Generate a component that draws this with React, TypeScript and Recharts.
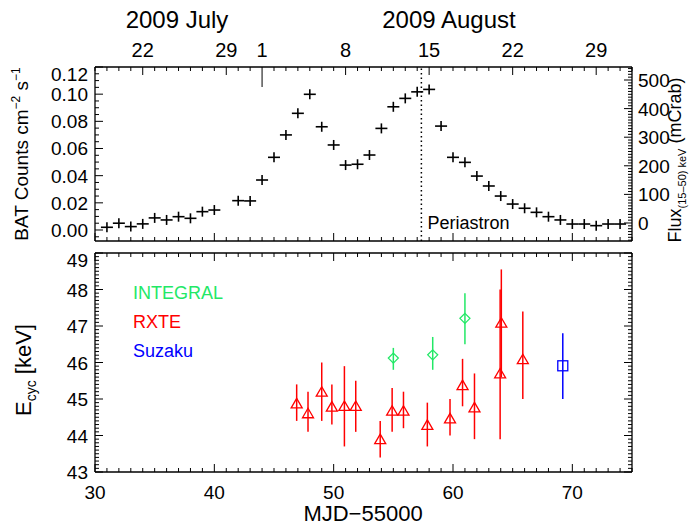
import React from "react";
import { ScatterChart, Scatter, XAxis, YAxis, ErrorBar, ReferenceLine } from "recharts";

const W = 691;
const H = 525;
const FONT = "'Liberation Sans', Arial, Helvetica, sans-serif";
const TICK_FS = 19;

// Swift/BAT daily light curve, MJD-55000 vs counts cm^-2 s^-1
const batMjd = [
  31, 32, 33, 34, 35, 36, 37, 38, 39, 40, 42, 43, 44, 45, 46, 47, 48, 49, 50, 51, 52, 53,
  54, 55, 56, 57, 58, 59, 60, 61, 62, 63, 64, 65, 66, 67, 68, 69, 70, 71, 72, 73, 74,
];
const batRate = [
  0.002, 0.005, 0.0025, 0.0045, 0.0089, 0.0074, 0.0098, 0.0086, 0.0135, 0.0147, 0.0216,
  0.0214, 0.0368, 0.0535, 0.07, 0.0859, 0.0999, 0.076, 0.0626, 0.0478, 0.0484, 0.0552,
  0.0748, 0.0907, 0.0969, 0.1017, 0.1035, 0.0765, 0.0535, 0.0498, 0.0397, 0.0324, 0.025,
  0.0191, 0.016, 0.013, 0.0098, 0.0074, 0.0044, 0.0044, 0.0032, 0.0044, 0.0044,
];

// cyclotron line energy (keV) with lower / upper limits
const rxteMjd = [46.9, 47.85, 49.0, 49.85, 50.9, 51.85, 53.9, 54.9, 55.85, 57.85, 59.75, 60.8, 61.8, 63.95, 64.05, 65.85];
const rxteE = [44.88, 44.61, 45.2, 44.79, 44.81, 44.81, 43.9, 44.68, 44.68, 44.29, 44.47, 45.38, 44.77, 45.7, 47.09, 46.09];
const rxteLo = [44.4, 44.1, 44.4, 44.3, 43.7, 44.1, 43.4, 44.1, 44.2, 43.7, 44.0, 44.8, 43.9, 43.9, 45.6, 45.0];
const rxteHi = [45.4, 45.2, 46.0, 45.4, 45.9, 45.5, 44.4, 45.3, 45.2, 44.9, 45.0, 46.1, 45.7, 48.0, 48.55, 47.4];

const integralMjd = [55.0, 58.3, 61.0];
const integralE = [46.12, 46.21, 47.21];
const integralLo = [45.8, 45.8, 46.5];
const integralHi = [46.4, 46.7, 47.9];

const suzakuMjd = [69.2];
const suzakuE = [45.91];
const suzakuLo = [45.0];
const suzakuHi = [46.8];

// calendar ticks on top axis
const dateMjd = [34, 41, 44, 51, 58, 65, 72];
const dateLabels = ["22", "29", "1", "8", "15", "22", "29"];
const monthStartMjd = 44;
const periastronMjd = 57.35;

const mjdLabels = [30, 40, 50, 60, 70];
const rateLabels = [0.0, 0.02, 0.04, 0.06, 0.08, 0.1, 0.12];
const fluxLabels = [0, 100, 200, 300, 400, 500];
const ecycLabels = [43, 44, 45, 46, 47, 48, 49];

const GREEN = "#22e866";
const RED = "#ff0000";
const BLUE = "#0000ff";

const steps = (lo: number, hi: number, step: number) => {
  const out: number[] = [];
  const n = Math.round((hi - lo) / step);
  for (let i = 0; i <= n; i++) out.push(+(lo + i * step).toFixed(4));
  return out;
};
const near = (a: number, list: number[]) => list.some((b) => Math.abs(a - b) < 1e-6);

const batData = batMjd.map((m, i) => ({ mjd: m, y: batRate[i] }));
const mk = (mjd: number[], e: number[], lo: number[], hi: number[]) =>
  mjd.map((m, i) => ({ mjd: m, y: e[i], err: [e[i] - lo[i], hi[i] - e[i]] }));
const rxteData = mk(rxteMjd, rxteE, rxteLo, rxteHi);
const integralData = mk(integralMjd, integralE, integralLo, integralHi);
const suzakuData = mk(suzakuMjd, suzakuE, suzakuLo, suzakuHi);

const dayTicks = steps(30, 75, 1);
const axisLine = { stroke: "#000", strokeWidth: 1.3 };

// custom ticks: tickSize=0/tickMargin=0 so x/y sit on the axis line
const xTickBottom = (withLabels: boolean) => (p: any) => {
  const v = p.payload.value;
  const major = near(v, mjdLabels);
  return (
    <g>
      <line x1={p.x} x2={p.x} y1={p.y} y2={p.y - (major ? 8 : 4)} stroke="#000" strokeWidth={1} />
      {withLabels && major && (
        <text x={p.x} y={p.y + 27} textAnchor="middle" fontSize={TICK_FS} fill="#000">{v}</text>
      )}
    </g>
  );
};

const xTickTopPlain = (p: any) => {
  const v = p.payload.value;
  const major = near(v, mjdLabels);
  return <line x1={p.x} x2={p.x} y1={p.y} y2={p.y + (major ? 8 : 4)} stroke="#000" strokeWidth={1} />;
};

const xTickDate = (p: any) => {
  const v = p.payload.value;
  const idx = dateMjd.indexOf(v);
  const len = v === monthStartMjd ? 20 : idx >= 0 ? 8 : 4;
  return (
    <g>
      <line x1={p.x} x2={p.x} y1={p.y} y2={p.y + len} stroke="#000" strokeWidth={1} />
      {idx >= 0 && (
        <text x={p.x} y={p.y - 10} textAnchor="middle" fontSize={20} fill="#000">{dateLabels[idx]}</text>
      )}
    </g>
  );
};

const yTickLeft = (majors: number[], fmt: (v: number) => string, labels: boolean, topVal: number) => (p: any) => {
  const v = p.payload.value;
  const major = near(v, majors);
  const shift = Math.abs(v - topVal) < 1e-6 ? 7 : 0;
  return (
    <g>
      <line x1={p.x} x2={p.x + (major ? 8 : 4)} y1={p.y} y2={p.y} stroke="#000" strokeWidth={1} />
      {labels && major && (
        <text x={p.x - 7} y={p.y + 7 + shift} textAnchor="end" fontSize={TICK_FS} fill="#000">{fmt(v)}</text>
      )}
    </g>
  );
};

const yTickRight = (majors: number[], labels: boolean) => (p: any) => {
  const v = p.payload.value;
  const major = near(v, majors);
  return (
    <g>
      <line x1={p.x} x2={p.x - (major ? 8 : 4)} y1={p.y} y2={p.y} stroke="#000" strokeWidth={1} />
      {labels && major && (
        <text x={p.x + 6} y={p.y + 7} textAnchor="start" fontSize={TICK_FS} fill="#000">{v}</text>
      )}
    </g>
  );
};

const Plus = (p: any) => (
  <g stroke="#000" strokeWidth={1.6}>
    <line x1={p.cx - 6} x2={p.cx + 6} y1={p.cy} y2={p.cy} />
    <line x1={p.cx} x2={p.cx} y1={p.cy - 5} y2={p.cy + 5} />
  </g>
);
const Triangle = (p: any) => (
  <path d={`M${p.cx - 5.5},${p.cy + 4.5}L${p.cx + 5.5},${p.cy + 4.5}L${p.cx},${p.cy - 5}Z`} fill="none" stroke={RED} strokeWidth={1.3} />
);
const Diamond = (p: any) => (
  <path d={`M${p.cx},${p.cy - 5}L${p.cx + 5},${p.cy}L${p.cx},${p.cy + 5}L${p.cx - 5},${p.cy}Z`} fill="none" stroke={GREEN} strokeWidth={1.3} />
);
const Square = (p: any) => (
  <rect x={p.cx - 5} y={p.cy - 5} width={10} height={10} fill="none" stroke={BLUE} strokeWidth={1.3} />
);
const Nothing = () => <g />;

const PeriLabel = (p: any) => {
  const vb = p.viewBox || {};
  return (
    <text x={vb.x + 6} y={vb.y + vb.height - 12} fontSize={18} fill="#000">Periastron</text>
  );
};

export default function App() {
  return (
    <div style={{ position: "absolute", left: 0, top: 0, width: W, height: H, background: "#fff", fontFamily: FONT }}>
      <div style={{ position: "absolute", left: 0, top: 0 }}>
        <ScatterChart width={W} height={H} margin={{ top: 0, right: 0, bottom: 0, left: 0 }}>
          <XAxis xAxisId="t" orientation="top" type="number" dataKey="mjd" domain={[30, 75]} allowDataOverflow ticks={dayTicks}
            interval={0} height={67} tickSize={0} tickMargin={0} tickLine={false} axisLine={axisLine} tick={xTickDate} />
          <XAxis xAxisId="b" orientation="bottom" type="number" dataKey="mjd" domain={[30, 75]} allowDataOverflow ticks={dayTicks}
            interval={0} height={H - 241} tickSize={0} tickMargin={0} tickLine={false} axisLine={axisLine} tick={xTickBottom(false)} />
          <YAxis yAxisId="l" orientation="left" type="number" dataKey="y" domain={[-0.0081, 0.12]} allowDataOverflow
            ticks={steps(-0.005, 0.12, 0.005)} interval={0} width={95} tickSize={0} tickMargin={0} tickLine={false}
            axisLine={axisLine} tick={yTickLeft(rateLabels, (v) => v.toFixed(2), true, 0.12)} />
          <YAxis yAxisId="r" orientation="right" type="number" dataKey="y" domain={[-63, 545.5]} allowDataOverflow
            ticks={steps(-60, 540, 10)} interval={0} width={W - 632} tickSize={0} tickMargin={0} tickLine={false}
            axisLine={axisLine} tick={yTickRight(fluxLabels, true)} />
          <ReferenceLine xAxisId="b" yAxisId="l" x={periastronMjd} stroke="#000" strokeWidth={1.5} strokeDasharray="1.5 3"
            label={<PeriLabel />} />
          <Scatter xAxisId="t" yAxisId="r" data={batData} shape={Nothing} isAnimationActive={false} />
          <Scatter xAxisId="b" yAxisId="l" data={batData} shape={Plus} isAnimationActive={false} />
        </ScatterChart>
      </div>

      <div style={{ position: "absolute", left: 0, top: 0 }}>
        <ScatterChart width={W} height={H} margin={{ top: 0, right: 0, bottom: 0, left: 0 }}>
          <XAxis xAxisId="t" orientation="top" type="number" dataKey="mjd" domain={[30, 75]} allowDataOverflow ticks={dayTicks}
            interval={0} height={253} tickSize={0} tickMargin={0} tickLine={false} axisLine={axisLine} tick={xTickTopPlain} />
          <XAxis xAxisId="b" orientation="bottom" type="number" dataKey="mjd" domain={[30, 75]} allowDataOverflow ticks={dayTicks}
            interval={0} height={H - 472} tickSize={0} tickMargin={0} tickLine={false} axisLine={axisLine} tick={xTickBottom(true)} />
          <YAxis yAxisId="l" orientation="left" type="number" dataKey="y" domain={[43, 49]} allowDataOverflow
            ticks={steps(43, 49, 0.1)} interval={0} width={95} tickSize={0} tickMargin={0} tickLine={false}
            axisLine={axisLine} tick={yTickLeft(ecycLabels, (v) => String(v), true, 49)} />
          <YAxis yAxisId="r" orientation="right" type="number" dataKey="y" domain={[43, 49]} allowDataOverflow
            ticks={steps(43, 49, 0.1)} interval={0} width={W - 632} tickSize={0} tickMargin={0} tickLine={false}
            axisLine={axisLine} tick={yTickRight(ecycLabels, false)} />
          <Scatter xAxisId="t" yAxisId="r" data={rxteData} shape={Nothing} isAnimationActive={false} />
          <Scatter xAxisId="b" yAxisId="l" data={rxteData} shape={Triangle} isAnimationActive={false}>
            <ErrorBar dataKey="err" direction="y" width={0} stroke={RED} strokeWidth={1.5} />
          </Scatter>
          <Scatter xAxisId="b" yAxisId="l" data={integralData} shape={Diamond} isAnimationActive={false}>
            <ErrorBar dataKey="err" direction="y" width={0} stroke={GREEN} strokeWidth={1.5} />
          </Scatter>
          <Scatter xAxisId="b" yAxisId="l" data={suzakuData} shape={Square} isAnimationActive={false}>
            <ErrorBar dataKey="err" direction="y" width={0} stroke={BLUE} strokeWidth={1.5} />
          </Scatter>
        </ScatterChart>
      </div>

      <svg style={{ position: "absolute", left: 0, top: 0, pointerEvents: "none" }} width={W} height={H}>
        <text x={177} y={28} textAnchor="middle" fontSize={24}>2009 July</text>
        <text x={449} y={28} textAnchor="middle" fontSize={24}>2009 August</text>
        <text transform="rotate(-90 28 154)" x={28} y={154} textAnchor="middle" fontSize={19}>
          BAT Counts cm<tspan fontSize={12} dy={-8}>−2</tspan>
          <tspan dy={8}> s</tspan>
          <tspan fontSize={12} dy={-8}>−1</tspan>
        </text>
        <text transform="rotate(-90 681 160)" x={681} y={160} textAnchor="middle" fontSize={18}>
          Flux<tspan fontSize={11} dy={5}>(15–50) keV</tspan>
          <tspan dy={-5}> (mCrab)</tspan>
        </text>
        <text transform="rotate(-90 31 370)" x={31} y={370} textAnchor="middle" fontSize={22}>
          E<tspan fontSize={14} dy={5}>cyc</tspan>
          <tspan dy={-5}> [keV]</tspan>
        </text>
        <text x={363} y={521} textAnchor="middle" fontSize={22}>MJD−55000</text>
        <text x={133} y={299} fontSize={18} fill={GREEN}>INTEGRAL</text>
        <text x={133} y={328} fontSize={18} fill={RED}>RXTE</text>
        <text x={133} y={357} fontSize={18} fill={BLUE}>Suzaku</text>
      </svg>
    </div>
  );
}
